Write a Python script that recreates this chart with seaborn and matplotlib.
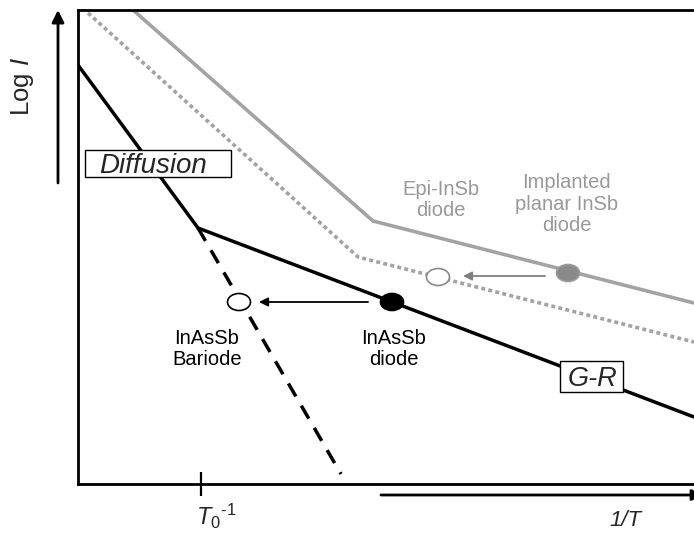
import seaborn as sns
import matplotlib.pyplot as plt
from matplotlib.patches import Ellipse, Rectangle

# schematic: x = 1/T, y = log I (arbitrary units)
inassb_x = [0, 120, 616]          # diffusion -> G-R, InAsSb diode
inassb_y = [419, 256, 67]
bariode_x = [120, 263]            # diffusion extended, InAsSb bariode
bariode_y = [256, 10]
implanted_x = [55, 295, 616]      # implanted planar InSb diode
implanted_y = [474, 263, 181]
epi_x = [10, 280, 616]            # epi-InSb diode
epi_y = [471, 227, 142]

# operating points (filled = conventional diode, open = improved device)
pt_x = [490, 360, 314, 161]
pt_y = [211, 207, 182, 182]
pt_face = ['#8a8a8a', 'white', 'black', 'white']
pt_edge = ['#9a9a9a', '#8a8a8a', 'black', 'black']

# arrows from filled to open points
arr_x0 = [467, 290]
arr_x1 = [385, 181]
arr_y = [208, 182]
arr_col = ['#7f7f7f', 'black']

t0 = 123  # T0^-1 position on 1/T axis

sns.set_style('white')
plt.rcParams['font.family'] = ['Liberation Sans', 'DejaVu Sans']
plt.rcParams['mathtext.fontset'] = 'custom'
plt.rcParams['mathtext.rm'] = 'Liberation Sans'
plt.rcParams['mathtext.it'] = 'Liberation Sans:italic'

fig = plt.figure(figsize=(6.94, 5.33), dpi=100)
ax = fig.add_axes([78 / 694, 49 / 533, 616 / 694, 474 / 533])
ax.set_xlim(0, 616)
ax.set_ylim(0, 474)

gray = '#a3a3a3'
sns.lineplot(x=implanted_x, y=implanted_y, ax=ax, color=gray, lw=2.6, sort=False)
sns.lineplot(x=epi_x, y=epi_y, ax=ax, color=gray, lw=2.6, sort=False,
             linestyle=(0, (1.1, 0.9)))
sns.lineplot(x=inassb_x, y=inassb_y, ax=ax, color='black', lw=2.5, sort=False)
sns.lineplot(x=bariode_x, y=bariode_y, ax=ax, color='black', lw=2.5, sort=False,
             linestyle=(0, (4.3, 3.1)))

for x, y, fc, ec in zip(pt_x, pt_y, pt_face, pt_edge):
    ax.add_patch(Ellipse((x, y), 23, 17, facecolor=fc, edgecolor=ec, lw=1.2, zorder=5))

for x0, x1, y, c in zip(arr_x0, arr_x1, arr_y, arr_col):
    ax.annotate('', xy=(x1, y), xytext=(x0, y),
                arrowprops=dict(arrowstyle='-|>', color=c, lw=1.3,
                                mutation_scale=13, shrinkA=0, shrinkB=0))

# labels
lab_kw = dict(ha='center', va='center', fontsize=14.5, linespacing=1.18)
ax.text(363, 284, 'Epi-InSb\ndiode', color='#999999', **lab_kw)
ax.text(488.5, 280, 'Implanted\nplanar InSb\ndiode', color='#999999', **lab_kw)
ax.text(129, 135, 'InAsSb\nBariode', color='black', **lab_kw)
ax.text(316, 135, 'InAsSb\ndiode', color='black', **lab_kw)

ax.add_patch(Rectangle((7, 307), 146, 27, facecolor='white', edgecolor='black', lw=1, zorder=6))
ax.text(75, 311.5, 'Diffusion', style='italic', fontsize=20, ha='center', va='baseline', zorder=7)
ax.add_patch(Rectangle((482, 92), 63, 31, facecolor='white', edgecolor='black', lw=1, zorder=6))
ax.text(515, 98, 'G-R', style='italic', fontsize=19.5, ha='center', va='baseline', zorder=7)

# frame
for side in ['left', 'top', 'bottom']:
    ax.spines[side].set_color('black')
    ax.spines[side].set_linewidth(2)
ax.spines['right'].set_visible(False)
ax.set_yticks([])
ax.set_xticks([t0])
ax.set_xticklabels([''])
ax.tick_params(axis='x', bottom=True, direction='inout', length=17, width=1.6, color='black')

# axis arrows and titles outside the frame
ax.annotate('', xy=(58, 523), xycoords='figure pixels', xytext=(58, 350),
            arrowprops=dict(arrowstyle='-|>', color='black', lw=2, mutation_scale=18,
                            shrinkA=0, shrinkB=0))
ax.annotate('', xy=(703, 38), xycoords='figure pixels', xytext=(381, 38),
            arrowprops=dict(arrowstyle='-|>', color='black', lw=2, mutation_scale=16,
                            shrinkA=0, shrinkB=0))
fig.text(23 / 694, 446 / 533, r'Log $I$', rotation=90, fontsize=18.5, ha='center', va='center')
fig.text(625 / 694, 13 / 533, '1/T', style='italic', fontsize=16, ha='center', va='center')
fig.text(196 / 694, 17 / 533, r'$T_0{}^{\text{-}1}$', fontsize=17, ha='left', va='center')

fig.savefig('out.png', dpi=100)
